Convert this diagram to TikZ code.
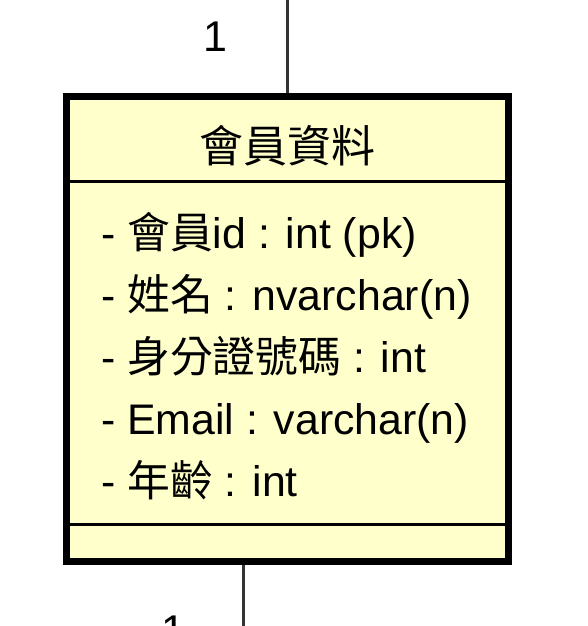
\documentclass[tikz,border=0pt]{standalone}
\usepackage{fontspec}
\setmainfont{Liberation Sans}
\newfontfamily\cjk{Noto Sans CJK TC}
\usetikzlibrary{positioning}
\definecolor{ClassYellow}{HTML}{FFFFCC}
\definecolor{LinkGray}{HTML}{333333}

\begin{document}
\begin{tikzpicture}[x=1pt, y=-1pt,
    classbox/.style={draw, line width=7pt, fill=ClassYellow, minimum width=442pt, minimum height=465pt, inner sep=0pt},
    attr/.style={anchor=base west, inner sep=0pt, font=\fontsize{42.8}{50}\selectfont},
    mult/.style={anchor=base, inner sep=0pt, font=\fontsize{43}{50}\selectfont},
    sepline/.style={line width=3pt},
    link/.style={draw=LinkGray, line width=2.2pt}]
  \useasboundingbox (0,0) rectangle (588,626);

  % la classe
  \node[classbox] (member) at (287.5,329) {};
  \node[inner sep=0pt, font=\cjk\fontsize{44}{50}\selectfont] (title) at (287.5,146) {會員資料};
  \draw[sepline] ([yshift=-88.5pt]member.north west) -- ([yshift=-88.5pt]member.north east);
  \draw[sepline] ([yshift=41pt]member.south west) -- ([yshift=41pt]member.south east);

  % attributs
  \foreach \i/\txt in {0/{- {\cjk 會員}id : int (pk)},
                       1/{- {\cjk 姓名} : nvarchar(n)},
                       2/{- {\cjk 身分證號碼} : int},
                       3/{- Email : varchar(n)},
                       4/{- {\cjk 年齡} : int}}
    \node[attr] (attr\i) at (101,{248+62.2*\i}) {\txt};

  % liens
  \coordinate (topend) at (287.5,0);
  \coordinate (botend) at (243.5,626);
  \draw[link] (topend) -- (member.north);
  \draw[link] (member.south -| botend) -- (botend);
  \node[mult] (topmult) at (215,52) {1};
  \node[mult] (botmult) at (173,645) {1};
\end{tikzpicture}
\end{document}
